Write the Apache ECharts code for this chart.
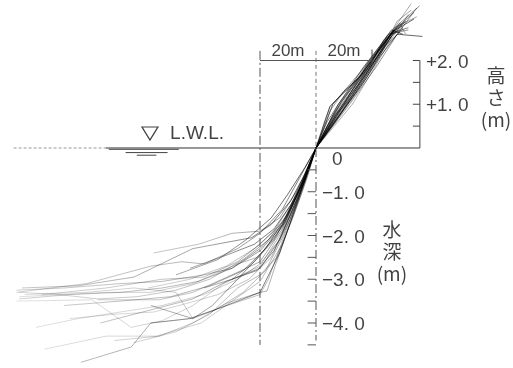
<!DOCTYPE html>
<html>
<head>
<meta charset="utf-8">
<script src="https://cdn.jsdelivr.net/npm/echarts@6/dist/echarts.min.js"></script>
<style>
  html, body { margin: 0; padding: 0; background: #fff; }
  #chart { width: 513px; height: 368px; }
</style>
</head>
<body>
<div id="chart"></div>
<script>
// beach profiles, [distance (m, + landward), height (m)] from offshore to onshore
const profile01 = [[-107,-3.3],[-82,-3.1],[-59,-2.7],[-48,-2.6],[-40,-2.65],[-28,-2.3],[-20,-1.95],[-12,-1.4],[-6,-0.7],[0,0],[4,0.6],[8,1.0],[14,1.5],[20,2.0],[28,2.7],[35,3.1]];
const profile02 = [[-106,-3.4],[-75,-3.3],[-59,-3.3],[-44,-3.1],[-28,-2.65],[-21,-2.5],[-14,-2.0],[-7,-1.1],[0,0],[6,0.75],[12,1.3],[19,1.95],[27,2.6],[31,2.75]];
const profile03 = [[-105,-3.2],[-85,-3.15],[-65,-2.95],[-44,-2.3],[-23,-2.05],[-16,-1.75],[-9,-1.2],[-4,-0.6],[0,0],[8,0.7],[16,1.4],[23,2.1],[29,2.6],[38,2.55]];
const profile04 = [[-107,-3.5],[-80,-3.47],[-66,-4.1],[-55,-3.95],[-44,-3.6],[-33,-3.1],[-20,-2.7],[-12,-1.9],[-5,-0.9],[0,0],[3,0.6],[5,0.95],[9,1.2],[15,1.6],[20,2.0],[27,2.65],[30,2.8]];
const profile05 = [[-78,-3.47],[-56,-3.47],[-44,-3.3],[-30,-2.9],[-20,-2.6],[-12,-1.85],[-5,-0.85],[0,0],[12,1.0],[22,1.9],[29,2.6],[36,3.2]];
const profile06 = [[-77,-4.0],[-56,-3.65],[-44,-3.45],[-32,-3.05],[-20,-2.75],[-13,-2.1],[-6,-1.05],[0,0],[7,0.75],[13,1.2],[21,2.0],[28,2.65],[33,2.75]];
const profile07 = [[-72,-4.4],[-56,-4.3],[-44,-4.0],[-32,-3.55],[-20,-3.3],[-17.5,-3.27],[-14.6,-2.7],[-8,-1.5],[-3,-0.6],[0,0],[9,0.85],[17,1.55],[24,2.3],[29,2.9],[34,3.15]];
const profile08 = [[-84,-4.9],[-66,-4.55],[-59,-4.0],[-45,-3.9],[-34,-3.65],[-20,-3.3],[-13,-2.4],[-7,-1.3],[0,0],[4,0.65],[6,1.0],[10,1.3],[16,1.65],[22,2.2],[28,2.7]];
const profile09 = [[-97,-4.6],[-75,-4.3],[-57,-4.3],[-41,-4.0],[-30,-3.5],[-20,-3.05],[-12,-2.2],[-5,-1.0],[0,0],[11,1.05],[21,2.0],[27,2.65],[34,3.3]];
const profile10 = [[-58,-2.4],[-42,-2.2],[-30,-1.95],[-20,-1.9],[-13,-1.6],[-7,-1.0],[-3,-0.45],[0,0],[6,0.7],[11,1.1],[17,1.6],[22,2.1],[27,2.6],[31,2.7]];
const profile11 = [[-107,-3.25],[-90,-3.2],[-70,-3.1],[-55,-3.05],[-40,-2.9],[-30,-2.75],[-20,-2.35],[-11,-1.7],[-5,-0.8],[0,0],[9,0.95],[18,1.8],[25,2.5],[32,2.9]];
const profile12 = [[-104,-3.35],[-82,-3.3],[-65,-3.2],[-50,-3.3],[-44,-3.9],[-36,-3.7],[-26,-3.3],[-18,-2.8],[-12,-2.05],[-6,-1.1],[0,0],[7,0.6],[14,1.3],[22,2.1],[28,2.75],[36,3.0]];
const profile13 = [[-59,-3.6],[-44,-3.9],[-37,-3.6],[-28,-3.0],[-20,-2.45],[-12,-1.8],[-5,-0.85],[0,0],[5,0.95],[8,1.15],[13,1.45],[19,1.85],[24,2.45],[27,2.7],[31,2.6]];
const profile14 = [[-59,-4.0],[-45,-3.9],[-34,-3.65],[-20,-3.35],[-17,-3.0],[-13,-2.3],[-7,-1.25],[0,0],[13,1.0],[21,1.85],[27,2.5],[33,3.05]];
const profile15 = [[-98,-3.35],[-75,-3.2],[-55,-3.0],[-40,-2.95],[-28,-2.6],[-20,-2.2],[-12,-1.7],[-6,-1.0],[0,0],[7,0.7],[15,1.45],[22,2.2],[29,2.8],[37,3.25]];
const profile16 = [[-90,-3.6],[-70,-3.5],[-52,-3.4],[-38,-3.15],[-26,-2.8],[-18,-2.3],[-11,-1.6],[-5,-0.75],[0,0],[10,0.9],[18,1.6],[25,2.35],[30,2.65]];
const profile17 = [[-60,-3.2],[-45,-3.0],[-32,-2.7],[-22,-2.3],[-15,-1.9],[-8,-1.2],[-3,-0.5],[0,0],[5,0.85],[10,1.3],[16,1.75],[23,2.3],[28,2.7]];
const profile18 = [[-50,-2.9],[-35,-2.55],[-25,-2.1],[-16,-1.6],[-10,-1.05],[-4,-0.45],[0,0],[8,1.0],[17,1.85],[26,2.6],[35,2.95]];
const profile19 = [[-100,-4.1],[-85,-3.9],[-70,-3.75],[-55,-3.6],[-40,-3.35],[-28,-3.0],[-20,-2.65],[-13,-2.1],[-6,-1.1],[0,0],[9,0.8],[18,1.75],[25,2.45],[30,2.85],[32,2.6]];
const profile20 = [[-30,-3.0],[-22,-2.6],[-15,-2.1],[-9,-1.4],[-4,-0.65],[0,0],[10,1.0],[19,2.0],[26,2.6],[33,2.7]];
const profile21 = [[-106,-3.45],[-88,-3.35],[-70,-3.3],[-55,-3.2],[-42,-3.05],[-30,-2.75],[-20,-2.3],[-12,-1.75],[-6,-0.95],[0,0],[7,0.75],[15,1.5],[23,2.2],[28,2.65]];
const profile22 = [[-65,-4.45],[-50,-4.2],[-38,-3.8],[-28,-3.2],[-20,-2.9],[-14,-2.5],[-8,-1.55],[-3,-0.65],[0,0],[8,0.9],[16,1.6],[24,2.35],[30,2.85]];
const profile23 = [[-45,-2.75],[-32,-2.45],[-22,-2.2],[-15,-1.85],[-9,-1.3],[-4,-0.7],[0,0],[6,0.55],[14,1.25],[21,1.95],[27,2.55]];
const profile24 = [[-88,-3.9],[-72,-3.8],[-58,-3.75],[-46,-3.55],[-35,-3.35],[-24,-3.0],[-16,-2.5],[-9,-1.6],[-4,-0.75],[0,0],[9,1.05],[17,1.8],[24,2.4],[29,2.75]];
const profile25 = [[-106,-3.3],[-92,-3.35],[-78,-3.45],[-64,-3.4],[-50,-3.25],[-38,-3.0],[-26,-2.55],[-17,-2.1],[-10,-1.5],[-4,-0.7],[0,0],[11,1.1],[20,1.9],[27,2.55],[32,2.9]];
const profile26 = [[-40,-3.2],[-30,-3.0],[-21,-2.8],[-15,-2.35],[-9,-1.5],[-4,-0.75],[0,0],[4,0.5],[9,1.05],[15,1.55],[21,2.15],[26,2.55]];
const profiles = [profile01, profile02, profile03, profile04, profile05, profile06, profile07, profile08, profile09, profile10,
                  profile11, profile12, profile13, profile14, profile15, profile16, profile17, profile18, profile19, profile20,
                  profile21, profile22, profile23, profile24, profile25, profile26];

// frame
const lwlLeft = -108, lwlRight = 37.1;
const sectionX = [-20, 0, 20];
const bracketY = 2.0;
const heightTicks = [0.5, 1.0, 1.5, 2.0];
const depthTicks = [-0.5, -1.0, -1.5, -2.0, -2.5, -3.0, -3.5, -4.0, -4.5];
const heightLabelValues = [2.0, 1.0];
const heightLabels = ['+2. 0', '+1. 0'];
const depthLabelValues = [-1.0, -2.0, -3.0, -4.0];
const depthLabels = ['\u22121. 0', '\u22122. 0', '\u22123. 0', '\u22124. 0'];
const waterMarks = [[-74, -49, -0.03], [-68, -53, -0.105], [-64, -57, -0.165]];

const numFont = '"Liberation Sans", sans-serif';
const jpFont = '"Noto Sans CJK JP", sans-serif';

function seg(data, color, width, type) {
    return {
        type: 'line', data: data, symbol: 'none', silent: true, animation: false,
        connectNulls: false, clip: false,
        lineStyle: { color: color, width: width, type: type || 'solid' }
    };
}
function txt(points, labels, opts) {
    return {
        type: 'scatter', symbolSize: 0, silent: true, animation: false, clip: false,
        data: points.map((p, i) => ({ value: p, label: Object.assign({ show: true, formatter: labels[i] }, opts) }))
    };
}
// lines fade out offshore, like the faint pencil traces of the original
function fade(a) {
    return new echarts.graphic.LinearGradient(0, 0, 513, 0, [
        { offset: 0, color: 'rgba(0,0,0,' + (a * 0.35) + ')' },
        { offset: 0.4, color: 'rgba(0,0,0,' + (a * 0.6) + ')' },
        { offset: 0.58, color: 'rgba(0,0,0,' + a + ')' },
        { offset: 1, color: 'rgba(0,0,0,' + a + ')' }
    ], true);
}

let series = [];
profiles.forEach((p, i) => {
    let a = [0.7, 0.5, 0.85, 0.45, 0.6][i % 5];
    series.push(seg(p, fade(a), 0.7));
});

// L.W.L. line
series.push(seg([[lwlLeft, 0], [-75, 0]], '#999', 1, [3, 2]));
series.push(seg([[-75, 0], [lwlRight, 0]], '#333', 1));
waterMarks.forEach(w => series.push(seg([[w[0], w[2]], [w[1], w[2]]], '#444', 1)));

// section lines (dash-dot)
series.push(seg([[sectionX[0], 2.22], [sectionX[0], -4.5]], '#555', 1, [9, 3, 2, 3]));
series.push(seg([[sectionX[1], 2.22], [sectionX[1], 0]], '#777', 1, [4, 3]));
series.push(seg([[sectionX[1], 0], [sectionX[1], -4.4]], '#555', 1, [9, 3, 2, 3]));
series.push(seg([[sectionX[0], bracketY], [sectionX[2], bracketY]], '#555', 1));
series.push(seg([[sectionX[2], 2.25], [sectionX[2], 1.9]], '#444', 1));

// height scale at right
series.push(seg([[lwlRight, 0], [lwlRight, 2.0]], '#444', 1));
let ht = [];
heightTicks.forEach(v => { ht.push([lwlRight - 2.5, v], [lwlRight, v], '-'); });
series.push(seg(ht, '#444', 1));
// depth ticks at x = 0
let dt = [];
depthTicks.forEach(v => { dt.push([-3, v], [0, v], '-'); });
series.push(seg(dt, '#555', 1));

// texts
const numLabel = { position: 'right', distance: 6, offset: [0, 2], color: '#111', fontSize: 19, fontFamily: numFont };
series.push(txt(heightLabelValues.map(v => [lwlRight, v]), heightLabels, numLabel));
series.push(txt(depthLabelValues.map(v => [0, v]), depthLabels, numLabel));
series.push(txt([[0, 0]], ['0'], Object.assign({}, numLabel, { distance: 16, offset: [0, 12] })));
series.push(txt([[-10, 2.22], [10, 2.22]], ['20m', '20m'],
    { position: 'inside', color: '#111', fontSize: 17, fontFamily: numFont }));
series.push(txt([[-52.1, 0.32]], ['L.W.L.'],
    { position: 'right', distance: 0, color: '#111', fontSize: 19, fontFamily: numFont }));
series.push(txt([[64.3, 1.14]], ['高\nさ\n(m)'],
    { position: 'inside', color: '#111', fontSize: 19, lineHeight: 22, fontFamily: jpFont, align: 'center' }));
series.push(txt([[27.1, -2.38]], ['水\n深\n(m)'],
    { position: 'inside', color: '#111', fontSize: 19, lineHeight: 22, fontFamily: jpFont, align: 'center' }));
// L.W.L. marker
series.push({
    type: 'scatter', silent: true, animation: false, clip: false,
    symbol: 'triangle', symbolSize: [16, 13], symbolRotate: 180,
    itemStyle: { color: 'rgba(0,0,0,0)', borderColor: '#111', borderWidth: 1.2 },
    data: [[-59.3, 0.33]]
});

let myChart = echarts.init(document.getElementById('chart'), null, { renderer: 'canvas' });
myChart.setOption({
    backgroundColor: '#fff',
    animation: false,
    grid: { left: 8, right: 1, top: 5.8, bottom: 1.25 },
    xAxis: { type: 'value', min: -110, max: 70, show: false },
    yAxis: { type: 'value', min: -5, max: 3.25, show: false },
    series: series
});
</script>
</body>
</html>
